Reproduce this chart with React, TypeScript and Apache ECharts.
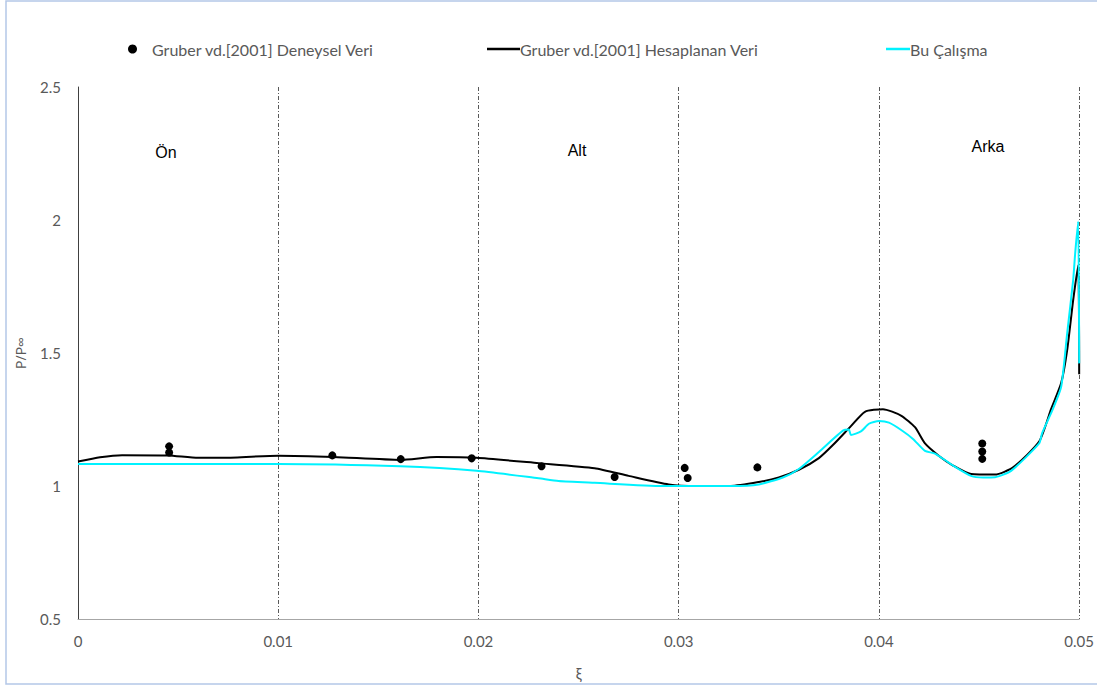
import React, { useEffect, useRef } from "react";
import * as echarts from "echarts";

const xTicks = [0, 0.01, 0.02, 0.03, 0.04, 0.05];
const yTicks = [0.5, 1, 1.5, 2, 2.5];

const expName = "Gruber vd.[2001] Deneysel Veri";
const expXi = [0.00455, 0.00455, 0.0127, 0.01612, 0.01966, 0.02315, 0.0268, 0.0303, 0.03045, 0.03393, 0.04516, 0.04516, 0.04516];
const expP = [1.149, 1.126, 1.115, 1.101, 1.104, 1.074, 1.034, 1.068, 1.03, 1.07, 1.16, 1.13, 1.102];

const calcName = "Gruber vd.[2001] Hesaplanan Veri";
const calcXi = [0, 0.0011, 0.0022, 0.0045, 0.006, 0.0073, 0.01, 0.0128, 0.0161, 0.0179, 0.0199, 0.023, 0.0258, 0.0275, 0.0295, 0.0309, 0.0326, 0.034, 0.035, 0.036, 0.037, 0.0377, 0.0386, 0.0393, 0.0402, 0.0411, 0.0418, 0.0423, 0.043, 0.0437, 0.0446, 0.0458, 0.0467, 0.048, 0.0486, 0.0491, 0.0494, 0.0497, 0.04995, 0.05];
const calcP = [1.092, 1.108, 1.116, 1.115, 1.106, 1.106, 1.114, 1.109, 1.098, 1.109, 1.106, 1.086, 1.067, 1.038, 1.006, 1.0, 1.0, 1.015, 1.032, 1.061, 1.105, 1.154, 1.225, 1.279, 1.289, 1.265, 1.221, 1.16, 1.113, 1.077, 1.045, 1.043, 1.07, 1.167, 1.29, 1.387, 1.511, 1.699, 1.83, 1.42];

const curName = "Bu Çalışma";
const curXi = [0, 0.01, 0.0161, 0.0199, 0.023, 0.024, 0.0258, 0.0292, 0.0326, 0.034, 0.0352, 0.036, 0.037, 0.0382, 0.0385, 0.0386, 0.0391, 0.0395, 0.04, 0.0405, 0.0412, 0.0417, 0.0423, 0.0428, 0.0437, 0.0446, 0.0452, 0.0458, 0.0466, 0.048, 0.04815, 0.04865, 0.0491, 0.0494, 0.0497, 0.0498, 0.04995, 0.05];
const curP = [1.083, 1.083, 1.074, 1.057, 1.029, 1.019, 1.012, 1.0, 1.0, 1.006, 1.032, 1.064, 1.128, 1.208, 1.212, 1.192, 1.205, 1.234, 1.244, 1.238, 1.206, 1.177, 1.132, 1.122, 1.077, 1.038, 1.032, 1.033, 1.057, 1.16, 1.199, 1.283, 1.373, 1.574, 1.774, 1.875, 1.994, 1.461];

const regionLabels = ["Ön", "Alt", "Arka"];

const zip = (xs: number[], ys: number[]) => xs.map((x, i) => [x, ys[i]]);

export default function App() {
  const ref = useRef<HTMLDivElement>(null);
  useEffect(() => {
    if (!ref.current) return;
    const chart = echarts.init(ref.current, undefined, { renderer: "svg" });
    const gray = "#595959";
    const font = "Lato";
    const cyan = "#00f2ff";
    const legendText = { color: gray, fontSize: 16, fontFamily: font };
    const annot = { fill: "#000", fontSize: 16, fontFamily: "Liberation Sans", textAlign: "center", textVerticalAlign: "middle" };
    chart.setOption({
      animation: false,
      backgroundColor: "#fff",
      grid: { left: 78, right: 17, top: 87, bottom: 68 },
      legend: [
        { data: [{ name: expName, icon: "circle" }], left: 123, top: 36, itemWidth: 9, itemHeight: 9, textStyle: { ...legendText, padding: [0, 0, 0, 10] } },
        { data: [{ name: calcName, icon: "rect" }], left: 482, top: 36, itemWidth: 33, itemHeight: 2.5, textStyle: { ...legendText, padding: [0, 0, 0, -5] } },
        { data: [{ name: curName, icon: "rect" }], left: 881, top: 36, itemWidth: 24, itemHeight: 2.5, textStyle: { ...legendText, padding: [0, 0, 0, -5] } },
      ],
      xAxis: {
        type: "value",
        min: xTicks[0],
        max: xTicks[xTicks.length - 1],
        interval: 0.01,
        name: "ξ",
        nameLocation: "middle",
        nameGap: 46,
        nameTextStyle: { color: gray, fontSize: 15, fontFamily: font },
        axisLine: { show: true, lineStyle: { color: "#a6a6a6", width: 1 } },
        axisTick: { show: false },
        axisLabel: { color: gray, fontSize: 15, fontFamily: font, margin: 14 },
        splitLine: { show: true, lineStyle: { color: "#595959", width: 1, type: [4, 2, 1, 2] } },
      },
      yAxis: {
        type: "value",
        min: yTicks[0],
        max: yTicks[yTicks.length - 1],
        interval: 0.5,
        name: "P/P∞",
        nameLocation: "middle",
        nameRotate: 90,
        nameGap: 51,
        nameTextStyle: { color: gray, fontSize: 14, fontFamily: "Open Sans" },
        axisLine: { show: true, lineStyle: { color: "#404040", width: 1 } },
        axisTick: { show: false },
        axisLabel: { color: gray, fontSize: 15, fontFamily: font, margin: 17 },
        splitLine: { show: false },
      },
      graphic: [
        { type: "rect", shape: { x: 6, y: 1, width: 1200, height: 683 }, style: { fill: "none", stroke: "#b4c7e7", lineWidth: 1.5 }, silent: true },
        { type: "text", x: 166, y: 152, style: { ...annot, text: regionLabels[0] } },
        { type: "text", x: 577, y: 150, style: { ...annot, text: regionLabels[1] } },
        { type: "text", x: 988, y: 146, style: { ...annot, text: regionLabels[2] } },
      ],
      series: [
        {
          name: calcName,
          type: "line",
          data: zip(calcXi, calcP),
          symbol: "none",
          smooth: 0.2,
          lineStyle: { color: "#000", width: 2 },
          itemStyle: { color: "#000" },
          z: 2,
        },
        {
          name: curName,
          type: "line",
          data: zip(curXi, curP),
          symbol: "none",
          smooth: 0.2,
          lineStyle: { color: cyan, width: 2 },
          itemStyle: { color: cyan },
          z: 3,
        },
        {
          name: expName,
          type: "scatter",
          data: zip(expXi, expP),
          symbol: "circle",
          symbolSize: 8,
          itemStyle: { color: "#000", opacity: 1 },
          z: 4,
        },
      ],
    });
    return () => chart.dispose();
  }, []);
  return <div ref={ref} style={{ position: "absolute", left: 0, top: 0, width: 1097, height: 687 }} />;
}
